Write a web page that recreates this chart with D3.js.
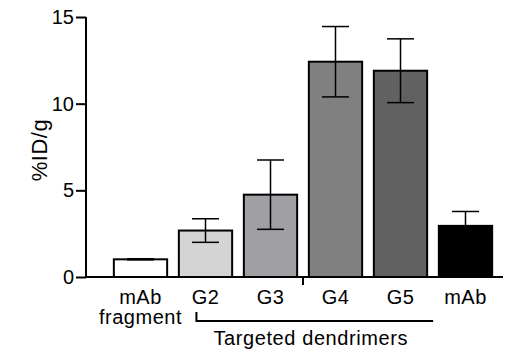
<!DOCTYPE html>
<html>
<head>
<meta charset="utf-8">
<script src="https://cdn.jsdelivr.net/npm/d3@7"></script>
<style>
  body { margin: 0; background: #fff; }
  text { font-family: "Liberation Sans", Arial, sans-serif; fill: #000; }
</style>
</head>
<body>
<div id="chart"></div>
<script>
// values
const categories = ['mAb fragment', 'G2', 'G3', 'G4', 'G5', 'mAb'];
const labelLines = [['mAb', 'fragment'], ['G2'], ['G3'], ['G4'], ['G5'], ['mAb']];
const means = [1.02, 2.68, 4.75, 12.42, 11.9, 2.95];
const errors = [0.03, 0.68, 2.0, 2.03, 1.84, 0.83];
const fills = ['#ffffff', '#d4d4d4', '#a0a0a4', '#808080', '#616161', '#000000'];
const yTicks = [0, 5, 10, 15];

const width = 510, height = 349;

const svg = d3.select('#chart').append('svg')
  .attr('width', width)
  .attr('height', height);

const x = d3.scaleBand()
  .domain(categories)
  .range([108, 498])
  .paddingInner(0.18)
  .paddingOuter(0.09);

const y = d3.scaleLinear()
  .domain([0, 15])
  .range([277, 17]);

const data = categories.map((c, i) => ({ cat: c, mean: means[i], err: errors[i], fill: fills[i] }));

// bars
svg.append('g').selectAll('rect')
  .data(data)
  .join('rect')
  .attr('x', d => x(d.cat))
  .attr('y', d => y(d.mean))
  .attr('width', x.bandwidth())
  .attr('height', d => y(0) - y(d.mean))
  .attr('fill', d => d.fill)
  .attr('stroke', '#000')
  .attr('stroke-width', 2);

// error bars
const eb = svg.append('g').attr('stroke', '#000').attr('stroke-width', 1.5);
const cap = 13.5;
data.forEach(d => {
  const cx = x(d.cat) + x.bandwidth() / 2;
  eb.append('line')
    .attr('x1', cx).attr('x2', cx)
    .attr('y1', y(d.mean - d.err)).attr('y2', y(d.mean + d.err));
  [d.mean - d.err, d.mean + d.err].forEach(v => {
    eb.append('line')
      .attr('x1', cx - cap).attr('x2', cx + cap)
      .attr('y1', y(v)).attr('y2', y(v));
  });
});

// y axis
const yAxis = svg.append('g')
  .attr('transform', 'translate(86,0)')
  .call(d3.axisLeft(y).tickValues(yTicks).tickSize(10).tickPadding(2));
yAxis.select('.domain').attr('stroke-width', 2).attr('d', `M0,${y(15)}V${y(0)}`);
yAxis.selectAll('.tick line').attr('stroke-width', 2);
yAxis.selectAll('.tick text')
  .style('font-family', '"Liberation Sans", Arial, sans-serif')
  .attr('font-size', 20);

svg.append('text')
  .attr('transform', 'translate(47,150) rotate(-90)')
  .attr('text-anchor', 'middle')
  .attr('font-size', 22)
  .attr('letter-spacing', 0.5)
  .text('%ID/g');

// x baseline
svg.append('line')
  .attr('x1', 86).attr('x2', 503)
  .attr('y1', y(0)).attr('y2', y(0))
  .attr('stroke', '#000').attr('stroke-width', 2);

// small break tick between G3 and G4
const brk = (x('G3') + x.bandwidth() + x('G4')) / 2;
svg.append('line')
  .attr('x1', brk).attr('x2', brk)
  .attr('y1', y(0)).attr('y2', y(0) + 8)
  .attr('stroke', '#000').attr('stroke-width', 2);

// category labels
const lab = svg.append('g').attr('text-anchor', 'middle')
  .attr('font-size', 20).attr('letter-spacing', 0.5);
labelLines.forEach((lines, i) => {
  const cx = x(categories[i]) + x.bandwidth() / 2;
  const t = lab.append('text').attr('x', cx).attr('y', 304);
  lines.forEach((s, j) => {
    t.append('tspan')
      .attr('x', cx)
      .attr('dy', j === 0 ? 0 : 20)
      .text(s);
  });
});

// bracket for targeted dendrimers
const bx0 = x('G2') + x.bandwidth() * 0.33;
const bx1 = x('G5') + x.bandwidth() + 6;
svg.append('path')
  .attr('d', `M${bx0},312V321H${bx1}`)
  .attr('fill', 'none')
  .attr('stroke', '#000')
  .attr('stroke-width', 2);

svg.append('text')
  .attr('x', (bx0 + bx1) / 2 - 4)
  .attr('y', 345)
  .attr('text-anchor', 'middle')
  .attr('font-size', 20)
  .attr('letter-spacing', 0.6)
  .text('Targeted dendrimers');
</script>
</body>
</html>
